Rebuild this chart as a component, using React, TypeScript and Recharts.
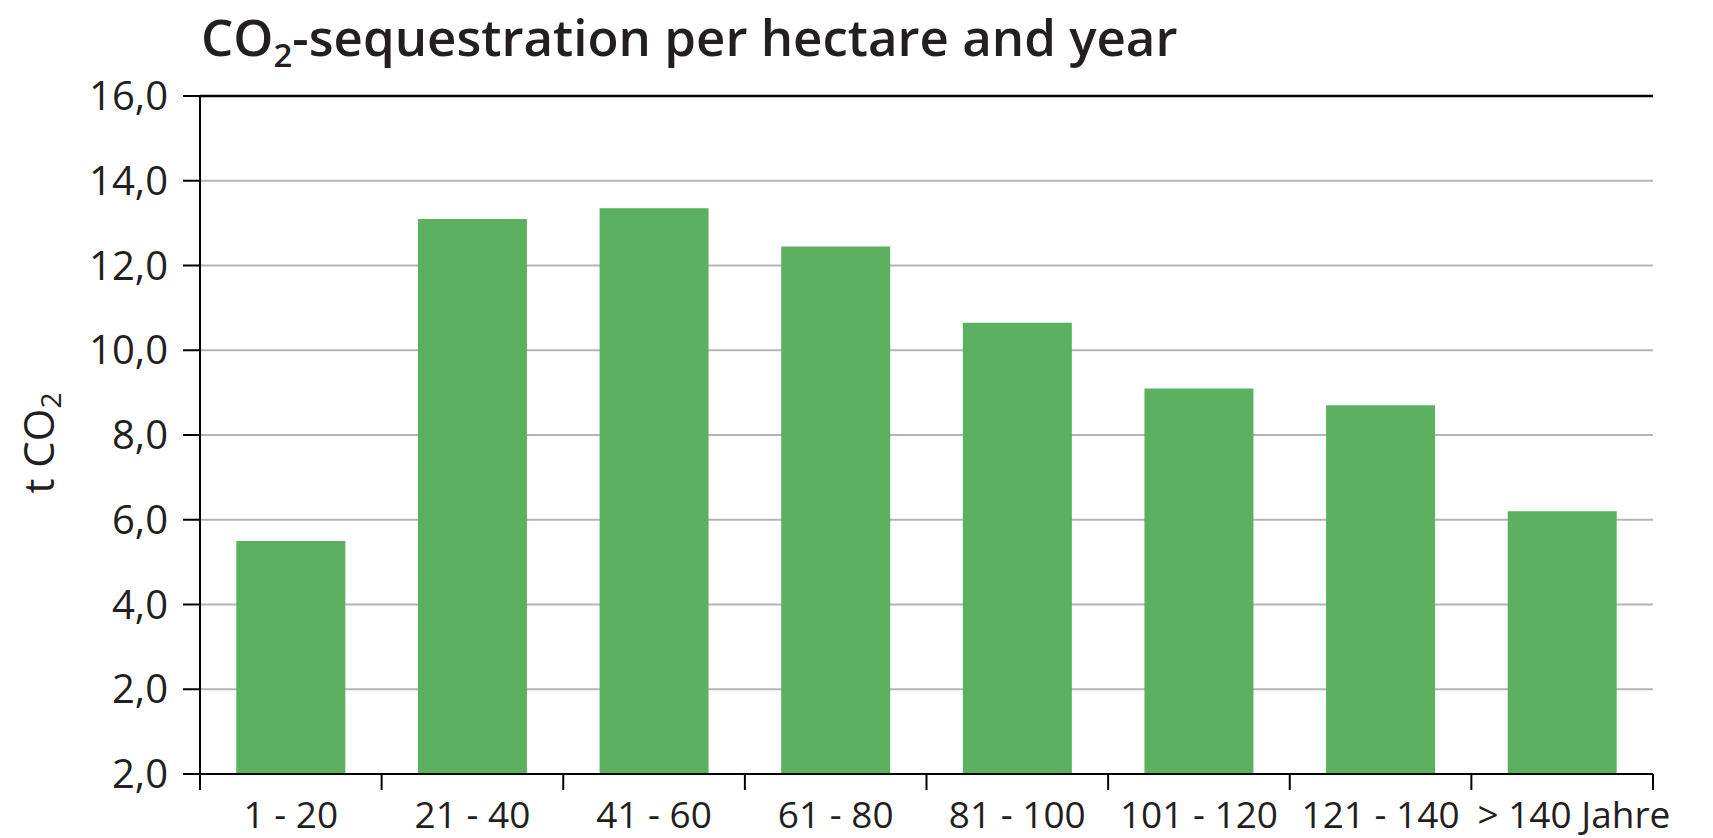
import React from "react"
import {
  BarChart,
  Bar,
  XAxis,
  YAxis,
  CartesianGrid,
  ReferenceLine
} from "recharts"

const categories = ["1 - 20", "21 - 40", "41 - 60", "61 - 80", "81 - 100", "101 - 120", "121 - 140", "> 140 Jahre"]
const sequestration = [5.5, 13.1, 13.35, 12.45, 10.65, 9.1, 8.7, 6.2]
const yTicks = [0, 2, 4, 6, 8, 10, 12, 14, 16]
// the bottom label really reads "2,0" in the source
const yTickLabels = ["2,0", "2,0", "4,0", "6,0", "8,0", "10,0", "12,0", "14,0", "16,0"]

const W = 1713
const H = 838
const MARGIN = { top: 96, right: 60, bottom: 0, left: 0 }
const Y_AXIS_W = 200
const X_AXIS_H = 64
const BAND = (W - MARGIN.left - MARGIN.right - Y_AXIS_W) / categories.length
const FONT = "'Open Sans', 'DejaVu Sans', sans-serif"
const INK = "#231f20"

const data = categories.map((c, i) => ({ age: c, co2: sequestration[i] }))

function AgeTick(props: any) {
  const { x, y, payload, index } = props
  const last = index === categories.length - 1
  return (
    <g>
      <line x1={x - BAND / 2} y1={y} x2={x - BAND / 2} y2={y + 16} stroke="#000" strokeWidth={2} />
      {last && <line x1={x + BAND / 2} y1={y} x2={x + BAND / 2} y2={y + 16} stroke="#000" strokeWidth={2} />}
      <text
        x={last ? x - BAND / 2 + 6 : x}
        y={y + 54}
        textAnchor={last ? "start" : "middle"}
        fontSize={37}
        fontFamily={FONT}
        fill={INK}
      >
        {payload.value}
      </text>
    </g>
  )
}

export default function App() {
  return (
    <div style={{ position: "absolute", left: 0, top: 0, width: W, height: H, background: "#fff" }}>
      <BarChart width={W} height={H} data={data} margin={MARGIN} barCategoryGap="20%">
        <CartesianGrid vertical={false} stroke="#b5b5b5" strokeWidth={2} />
        <XAxis
          dataKey="age"
          height={X_AXIS_H}
          interval={0}
          tickLine={false}
          tickSize={0}
          tickMargin={0}
          axisLine={{ stroke: "#000", strokeWidth: 2 }}
          tick={<AgeTick />}
        />
        <YAxis
          width={Y_AXIS_W}
          domain={[0, 16]}
          ticks={yTicks}
          interval={0}
          tickFormatter={(v) => yTickLabels[yTicks.indexOf(v)]}
          tickSize={17}
          tickMargin={15}
          tickLine={{ stroke: "#000", strokeWidth: 2 }}
          axisLine={{ stroke: "#000", strokeWidth: 2 }}
          tick={{ fontSize: 40, fontFamily: FONT, fill: INK }}
        />
        <YAxis
          yAxisId="frame"
          orientation="right"
          width={0}
          domain={[0, 16]}
          tick={false}
          tickLine={false}
          axisLine={{ stroke: "#000", strokeWidth: 2.5 }}
        />
        <ReferenceLine y={16} stroke="#000" strokeWidth={2.5} />
        <Bar dataKey="co2" fill="#5cb160" isAnimationActive={false} />
      </BarChart>
      <svg
        width={W}
        height={H}
        style={{ position: "absolute", left: 0, top: 0, pointerEvents: "none" }}
      >
        <text x={201} y={56} fontSize={51} fontWeight={600} fontFamily={FONT} fill={INK}>
          CO
          <tspan fontSize={33} dy={11}>2</tspan>
          <tspan dy={-11}>-sequestration per hectare and year</tspan>
        </text>
        <text
          x={54}
          y={443}
          transform="rotate(-90 54 443)"
          textAnchor="middle"
          fontSize={42}
          fontFamily={FONT}
          fill={INK}
        >
          t CO
          <tspan fontSize={28} dy={7}>2</tspan>
        </text>
      </svg>
    </div>
  )
}
